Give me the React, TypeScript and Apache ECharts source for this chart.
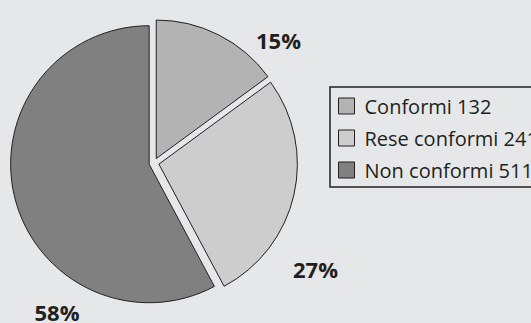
import React, { useEffect, useRef } from "react";
import * as echarts from "echarts";

const categories = ["Conformi", "Rese conformi", "Non conformi"];
const values = [132, 241, 511];
const colors = ["#b3b3b3", "#cdcdcd", "#808080"];
// label anchor points (layout only)
const labelAnchors: [number, number][] = [
  [278.5, 40],
  [315.5, 268.5],
  [57, 311.5],
];

export default function App() {
  const ref = useRef<HTMLDivElement>(null);
  useEffect(() => {
    if (!ref.current) return;
    const chart = echarts.init(ref.current, undefined, { renderer: "svg" });
    const total = values.reduce((a, b) => a + b, 0);
    chart.setOption({
      animation: false,
      backgroundColor: "#e6e7e8",
      legend: {
        orient: "vertical",
        left: 330,
        top: 87,
        padding: [9, 5, 7, 8],
        borderColor: "#231f20",
        borderWidth: 1.5,
        itemWidth: 16,
        itemHeight: 16,
        itemGap: 12,
        icon: "rect",
        itemStyle: { borderColor: "#231f20", borderWidth: 1 },
        textStyle: {
          fontFamily: "Open Sans",
          fontSize: 20,
          color: "#231f20",
          padding: [0, 0, 0, 5],
        },
        formatter: (name: string) => {
          const i = categories.indexOf(name);
          return `${name} ${values[i]}`;
        },
        data: categories,
      },
      graphic: values.map((v, i) => ({
        type: "text",
        x: labelAnchors[i][0],
        y: labelAnchors[i][1],
        silent: true,
        style: {
          text: `${Math.round((v / total) * 100)}%`,
          fontFamily: "Open Sans",
          fontWeight: "bold",
          fontSize: 22,
          lineHeight: 18,
          fill: "#231f20",
          align: "center",
          verticalAlign: "middle",
        },
      })),
      series: [
        {
          type: "pie",
          center: [154, 163],
          radius: 138.5,
          startAngle: 90,
          clockwise: true,
          selectedMode: "multiple",
          selectedOffset: 5,
          emphasis: { disabled: true },
          itemStyle: { borderColor: "#231f20", borderWidth: 1 },
          label: { show: false },
          labelLine: { show: false },
          data: categories.map((name, i) => ({
            name,
            value: values[i],
            selected: true,
            itemStyle: { color: colors[i] },
          })),
        },
      ],
    });
    return () => chart.dispose();
  }, []);
  return (
    <div
      ref={ref}
      style={{ position: "fixed", left: 0, top: 0, width: 531, height: 323 }}
    />
  );
}
